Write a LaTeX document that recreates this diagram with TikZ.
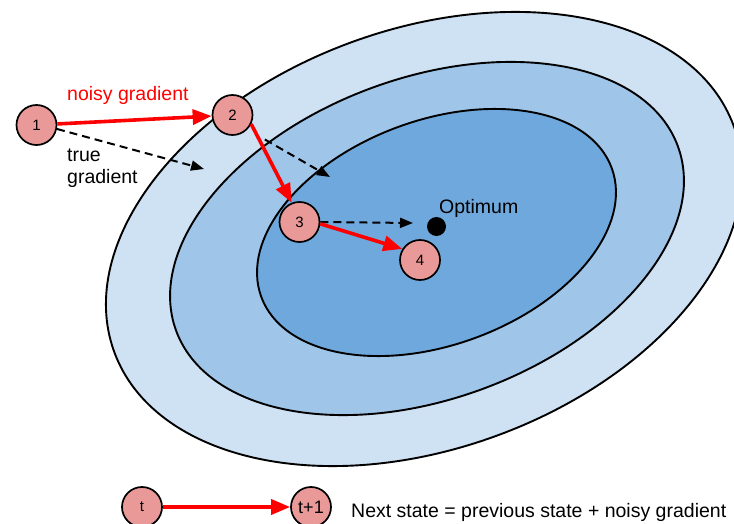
\documentclass[tikz,border=0pt]{standalone}
\usepackage{fontspec}
\setmainfont{Liberation Sans}
\usetikzlibrary{arrows.meta}
\definecolor{outerblue}{HTML}{CFE2F3}
\definecolor{midblue}{HTML}{9FC5E8}
\definecolor{innerblue}{HTML}{6FA8DC}
\definecolor{nodefill}{HTML}{EA9999}
\definecolor{gred}{HTML}{FF0000}
\begin{document}
\begin{tikzpicture}[x=1pt,y=1pt,
  state/.style={circle, draw=black, line width=1.7pt, fill=nodefill, minimum size=40pt, inner sep=0pt, font=\fontsize{15}{17}\selectfont},
  contour/.style={draw=black, line width=1.9pt},
  noisy/.style={draw=gred, line width=3.6pt, -{Triangle[length=19pt,width=15pt]}},
  truegrad/.style={draw=black, line width=2pt, dash pattern=on 8pt off 5pt, -{Triangle[length=13pt,width=10pt]}},
  lab/.style={font=\fontsize{19.5}{22}\selectfont, inner sep=0pt}
]
\useasboundingbox (0,0) rectangle (734,-524);
\clip (0,0) rectangle (734,-524);
% contour ellipses
\filldraw[contour, fill=outerblue, rotate around={20:(424,-239)}] (424,-239) ellipse [x radius=329.7, y radius=209.7];
\filldraw[contour, fill=midblue, rotate around={20.2:(427,-238.5)}] (427,-238.5) ellipse [x radius=267.3, y radius=160.4];
\filldraw[contour, fill=innerblue, rotate around={20.2:(436.5,-232.5)}] (436.5,-232.5) ellipse [x radius=186.7, y radius=112.3];
% states
\node[state] (n1) at (36.5,-125) {1};
\node[state] (n2) at (232.5,-115) {2};
\node[state] (n3) at (299.5,-222) {3};
\node[state] (n4) at (420,-260) {4};
\node[circle, fill=black, minimum size=19pt, inner sep=0pt] (opt) at (436.5,-226.5) {};
\node[state] (t) at (142,-507) {t};
\node[state, font=\fontsize{18}{20}\selectfont] (t1) at (311,-507) {t+1};
% free ends of true gradient arrows
\coordinate (tg1) at (204,-169);
\coordinate (tg2) at (330,-177);
\coordinate (tg3) at (413,-223);
% true gradient
\draw[truegrad] (n1.-11) -- (tg1);
\draw[truegrad, shorten <=20pt] (n2.-44) -- (tg2);
\draw[truegrad] (n3.east) -- (tg3);
% noisy gradient
\draw[noisy] (n1) -- (n2);
\draw[noisy] (n2.-26) -- (n3.112);
\draw[noisy] (n3.-5) -- (n4.148);
\draw[noisy] (t) -- (t1);
% labels
\node[lab, text=gred, anchor=base west] (noisylab) at (67,-101) {noisy gradient};
\node[lab, anchor=base west] (truelab) at (67,-162) {true};
\node[lab, anchor=base west] (gradlab) at (67,-183) {gradient};
\node[lab, anchor=base west] (optlab) at (439,-214) {Optimum};
\node[lab, anchor=base west] (legend) at (351,-517) {Next state = previous state + noisy gradient};
\end{tikzpicture}
\end{document}
